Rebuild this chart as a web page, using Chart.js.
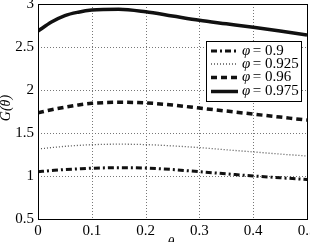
<!DOCTYPE html>
<html>
<head>
<meta charset="utf-8">
<script src="https://cdn.jsdelivr.net/npm/chart.js@4"></script>
<style>
html,body{margin:0;padding:0;overflow:hidden;background:#fff;width:310px;height:242px;}
canvas{display:block;}
</style>
</head>
<body>
<canvas id="c" width="330" height="262"></canvas>
<script>
const thetas = [0, 0.025, 0.05, 0.075, 0.1, 0.15, 0.2, 0.25, 0.3, 0.35, 0.4, 0.45, 0.5];
const phi900 = [1.05, 1.063, 1.075, 1.083, 1.09, 1.097, 1.093, 1.075, 1.05, 1.025, 1.0, 0.98, 0.96];
const phi925 = [1.314, 1.33, 1.345, 1.356, 1.364, 1.37, 1.365, 1.35, 1.33, 1.305, 1.28, 1.255, 1.233];
const phi960 = [1.735, 1.77, 1.80, 1.826, 1.845, 1.857, 1.85, 1.825, 1.79, 1.755, 1.72, 1.685, 1.65];
const phi975 = [2.685, 2.79, 2.865, 2.905, 2.93, 2.94, 2.91, 2.86, 2.81, 2.77, 2.73, 2.685, 2.64];
const seriesLabels = ['0.9', '0.925', '0.96', '0.975'];
const xTicks = [0, 0.1, 0.2, 0.3, 0.4, 0.5];
const yTicks = [0.5, 1, 1.5, 2, 2.5, 3];
const xTitle = 'θ';
const yTitle = 'G\u0303(θ)';

const SERIF = '"Liberation Serif", "Times New Roman", serif';
const pts = arr => thetas.map((t, i) => ({x: t, y: arr[i]}));

const styles = [
  {borderWidth: 3, borderDash: [6, 3, 2, 3], borderColor: '#111'},
  {borderWidth: 1.3, borderDash: [1, 2], borderColor: '#555'},
  {borderWidth: 3.5, borderDash: [6, 4], borderColor: '#111'},
  {borderWidth: 3.5, borderDash: [], borderColor: '#111'}
];
const allData = [phi900, phi925, phi960, phi975];

const datasets = allData.map((d, i) => Object.assign({
  label: 'φ = ' + seriesLabels[i],
  data: pts(d),
  pointRadius: 0,
  fill: false,
  tension: 0.4,
  cubicInterpolationMode: 'monotone',
  borderCapStyle: 'butt'
}, styles[i]));

const dotGrid = {
  id: 'dotGrid',
  beforeDatasetsDraw(chart) {
    const ctx = chart.ctx, a = chart.chartArea;
    const sx = chart.scales.x, sy = chart.scales.y;
    ctx.save();
    ctx.strokeStyle = '#777';
    ctx.lineWidth = 1;
    ctx.setLineDash([1, 2]);
    sx.ticks.forEach(t => {
      const x = Math.round(sx.getPixelForValue(t.value)) + 0.5;
      ctx.beginPath(); ctx.moveTo(x, a.top); ctx.lineTo(x, a.bottom); ctx.stroke();
    });
    sy.ticks.forEach(t => {
      const y = Math.round(sy.getPixelForValue(t.value)) + 0.5;
      ctx.beginPath(); ctx.moveTo(a.left, y); ctx.lineTo(a.right, y); ctx.stroke();
    });
    ctx.restore();
  }
};

const decor = {
  id: 'decor',
  afterDraw(chart) {
    const ctx = chart.ctx, a = chart.chartArea;
    ctx.save();
    ctx.strokeStyle = '#000';
    ctx.lineWidth = 1;
    ctx.setLineDash([]);
    ctx.strokeRect(Math.round(a.left) + 0.5, Math.round(a.top) + 0.5, Math.round(a.right - a.left), Math.round(a.bottom - a.top));
    const bx = 206.5, by = 41.5, bw = 95, bh = 60;
    ctx.fillStyle = '#fff';
    ctx.fillRect(bx, by, bw, bh);
    ctx.strokeRect(bx, by, bw, bh);
    const rows = [51, 64, 77.5, 91.5];
    chart.data.datasets.forEach((ds, i) => {
      const y = rows[i];
      ctx.beginPath();
      ctx.strokeStyle = ds.borderColor;
      ctx.lineWidth = ds.borderWidth;
      ctx.setLineDash(ds.borderDash);
      ctx.moveTo(211, y);
      ctx.lineTo(238, y);
      ctx.stroke();
      ctx.setLineDash([]);
      ctx.fillStyle = '#000';
      ctx.textBaseline = 'middle';
      ctx.textAlign = 'left';
      ctx.font = 'italic 15px ' + SERIF;
      ctx.fillText('φ', 242, y);
      ctx.font = '15px ' + SERIF;
      ctx.fillText(' = ' + seriesLabels[i], 249, y);
    });
    ctx.fillStyle = '#000';
    ctx.font = 'italic 14px ' + SERIF;
    ctx.textAlign = 'center';
    ctx.textBaseline = 'top';
    ctx.fillText(xTitle, 171, 236);
    ctx.translate(6, 108);
    ctx.rotate(-Math.PI / 2);
    ctx.textBaseline = 'middle';
    ctx.fillText(yTitle, 0, 0);
    ctx.restore();
  }
};

new Chart(document.getElementById('c'), {
  type: 'line',
  data: {datasets},
  options: {
    responsive: false,
    animation: false,
    devicePixelRatio: 1,
    layout: {padding: {top: 4, right: 23, left: 0, bottom: 0}},
    plugins: {legend: {display: false}, tooltip: {enabled: false}},
    scales: {
      x: {
        type: 'linear', min: 0, max: 0.5,
        afterBuildTicks: s => { s.ticks = xTicks.map(v => ({value: v})); },
        afterFit: s => { s.height = 262 - 219; s.paddingLeft = 0; s.paddingRight = 0; },
        border: {display: false},
        grid: {display: false, drawTicks: false},
        ticks: {color: '#000', padding: 3, maxRotation: 0, autoSkip: false,
          font: {family: SERIF, size: 15}, callback: v => String(v)}
      },
      y: {
        type: 'linear', min: 0.5, max: 3,
        afterBuildTicks: s => { s.ticks = yTicks.map(v => ({value: v})); },
        afterFit: s => { s.width = 38; s.paddingTop = 0; s.paddingBottom = 0; },
        border: {display: false},
        grid: {display: false, drawTicks: false},
        ticks: {color: '#000', padding: 4, autoSkip: false,
          font: {family: SERIF, size: 15}, callback: v => String(v)}
      }
    }
  },
  plugins: [dotGrid, decor]
});
</script>
</body>
</html>
